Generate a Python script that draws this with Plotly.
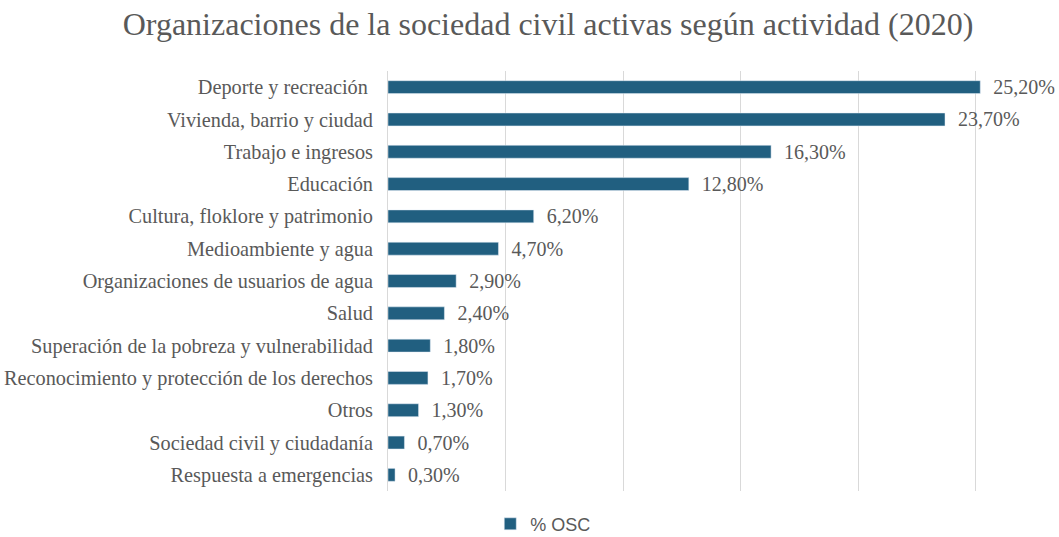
import plotly.graph_objects as go

categories = [
    "Deporte y recreación ",
    "Vivienda, barrio y ciudad",
    "Trabajo e ingresos",
    "Educación",
    "Cultura, floklore y patrimonio",
    "Medioambiente y agua",
    "Organizaciones de usuarios de agua",
    "Salud",
    "Superación de la pobreza y vulnerabilidad",
    "Reconocimiento y protección de los derechos",
    "Otros",
    "Sociedad civil y ciudadanía",
    "Respuesta a emergencias",
]
values = [25.2, 23.7, 16.3, 12.8, 6.2, 4.7, 2.9, 2.4, 1.8, 1.7, 1.3, 0.7, 0.3]
series_name = "% OSC"
title_text = "Organizaciones de la sociedad civil activas según actividad (2020)"

labels = ["\u00a0\u00a0" + f"{v:.2f}".replace(".", ",") + "%" for v in values]

serif = "Liberation Serif"
grey = "#595959"
bar_color = "#215f80"

fig = go.Figure()
fig.add_trace(go.Bar(
    y=categories,
    x=values,
    orientation="h",
    name=series_name,
    marker=dict(color=bar_color),
    text=labels,
    textposition="outside",
    constraintext="none",
    textfont=dict(family=serif, size=20, color=grey),
    cliponaxis=False,
    showlegend=True,
))

fig.update_layout(
    width=1059,
    height=537,
    margin=dict(l=388, r=59, t=71, b=46),
    paper_bgcolor="white",
    plot_bgcolor="white",
    bargap=0.6,
    title=dict(
        text=title_text,
        font=dict(family=serif, size=32, color=grey),
        xref="container", x=0.5175, xanchor="center",
        yref="container", y=0.955, yanchor="middle",
    ),
    xaxis=dict(
        range=[0, 26.04],
        dtick=5,
        showticklabels=False,
        showgrid=True,
        gridcolor="#d9d9d9",
        gridwidth=1,
        zeroline=False,
        fixedrange=True,
    ),
    yaxis=dict(
        autorange="reversed",
        automargin=False,
        showline=True,
        linecolor="#d9d9d9",
        linewidth=1,
        ticks="",
        ticklabelstandoff=10,
        tickfont=dict(family=serif, size=20.3, color=grey),
    ),
    legend=dict(
        orientation="h",
        xref="container", x=0.513, xanchor="center",
        yref="container", y=0.024, yanchor="middle",
        font=dict(family="Liberation Sans", size=18, color=grey),
        itemwidth=30,
    ),
    showlegend=True,
)

fig.write_html("out.html")
